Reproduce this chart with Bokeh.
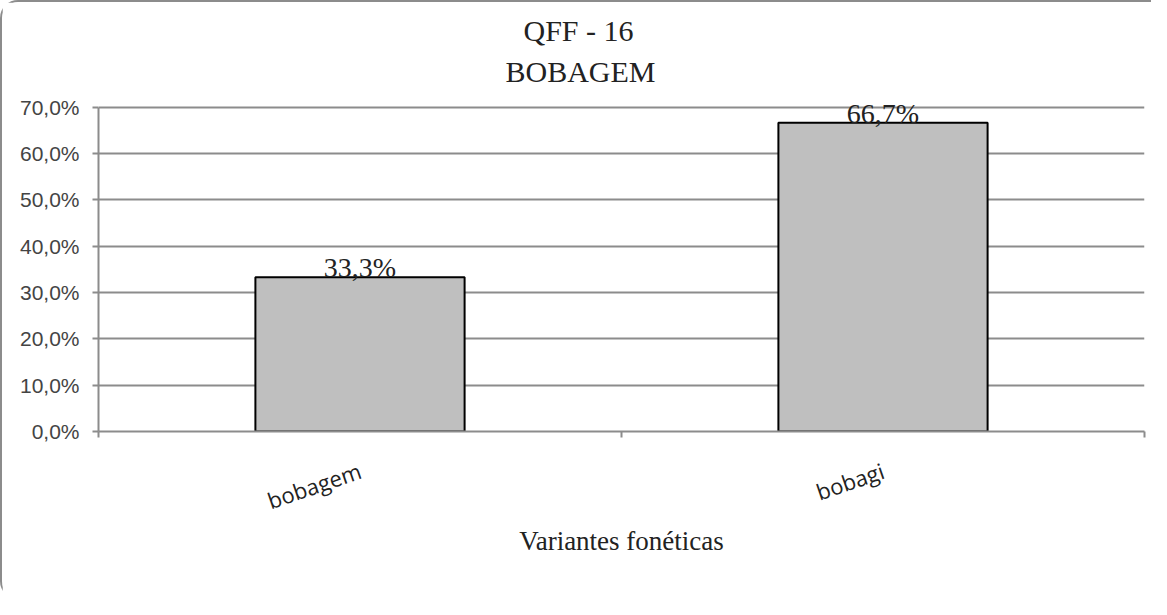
from bokeh.plotting import figure
from bokeh.models import Range1d, FixedTicker, Title, ColumnDataSource, LabelSet
from bokeh.embed import file_html
from bokeh.resources import INLINE

categories = ["bobagem", "bobagi"]
values = [0.333, 0.667]
value_labels = ["33,3%", "66,7%"]
y_ticks = [0.0, 0.1, 0.2, 0.3, 0.4, 0.5, 0.6, 0.7]
y_tick_labels = ["0,0%", "10,0%", "20,0%", "30,0%", "40,0%", "50,0%", "60,0%", "70,0%"]
title_lines = ["QFF  - 16", "BOBAGEM"]
x_label = "Variantes fonéticas"

xs = [i + 0.5 for i in range(len(categories))]
src = ColumnDataSource(dict(x=xs, top=values, lab=value_labels))

# a little head-room above the 70% line so the top data label is not clipped
p = figure(width=1151, height=599, output_backend="svg", toolbar_location=None,
           x_range=Range1d(0, len(categories)), y_range=Range1d(0, 0.73),
           min_border_left=96, min_border_right=9, min_border_top=91, min_border_bottom=170)
p.styles = {"border-top": "2px solid #8c8c8c", "border-left": "2px solid #8c8c8c",
            "border-top-left-radius": "18px", "border-bottom-left-radius": "18px",
            "box-sizing": "border-box"}
p.outline_line_color = None
p.background_fill_color = "white"
p.border_fill_color = "white"

p.vbar(x="x", top="top", width=0.4, bottom=0, source=src,
       fill_color="#bfbfbf", line_color="black", line_width=2)
labels = LabelSet(x="x", y="top", text="lab", source=src, text_align="center",
                  text_baseline="bottom", y_offset=-6, level="overlay",
                  text_font="Liberation Serif", text_font_size="28px", text_color="#222222")
p.add_layout(labels)

# y axis
p.yaxis.ticker = FixedTicker(ticks=y_ticks)
p.yaxis.bounds = (y_ticks[0], y_ticks[-1])
p.yaxis.major_label_overrides = {t: l for t, l in zip(y_ticks, y_tick_labels)}
p.yaxis.major_label_text_font = "Liberation Sans"
p.yaxis.major_label_text_font_size = "21px"
p.yaxis.major_label_text_color = "#444444"
p.yaxis.axis_line_color = "#8c8c8c"
p.yaxis.axis_line_width = 2
p.yaxis.major_tick_line_color = "#8c8c8c"
p.yaxis.major_tick_line_width = 2
p.yaxis.major_tick_out = 6
p.yaxis.major_tick_in = 0
p.yaxis.minor_tick_line_color = None
p.yaxis.major_label_standoff = 13

p.ygrid.ticker = FixedTicker(ticks=y_ticks)
p.ygrid.grid_line_color = "#8c8c8c"
p.ygrid.grid_line_width = 2
p.xgrid.grid_line_color = None

# x axis
p.xaxis.ticker = FixedTicker(ticks=xs, minor_ticks=list(range(len(categories) + 1)))
p.xaxis.major_label_overrides = {x: c for x, c in zip(xs, categories)}
p.xaxis.major_tick_line_color = None
p.xaxis.minor_tick_line_color = "#8c8c8c"
p.xaxis.minor_tick_line_width = 2
p.xaxis.minor_tick_out = 6
p.xaxis.minor_tick_in = 0
p.xaxis.axis_line_color = "#8c8c8c"
p.xaxis.axis_line_width = 2
p.xaxis.major_label_orientation = 0.33
p.xaxis.major_label_text_font = "Open Sans"
p.xaxis.major_label_text_font_size = "22px"
p.xaxis.major_label_text_color = "#222222"
p.xaxis.major_label_standoff = 32
p.xaxis.axis_label = x_label
p.xaxis.axis_label_text_font = "Liberation Serif"
p.xaxis.axis_label_text_font_style = "normal"
p.xaxis.axis_label_text_font_size = "27px"
p.xaxis.axis_label_text_color = "#222222"
p.xaxis.axis_label_standoff = -6

# titles
t2 = Title(text=title_lines[1], align="left", offset=407, standoff=12,
           text_font="Liberation Serif", text_font_size="30px", text_font_style="normal",
           text_color="#222222")
t1 = Title(text=title_lines[0], align="left", offset=425, standoff=0,
           text_font="Liberation Serif", text_font_size="30px", text_font_style="normal",
           text_color="#222222")
p.add_layout(t2, "above")
p.add_layout(t1, "above")

open("out.html", "w").write(file_html(p, INLINE))
